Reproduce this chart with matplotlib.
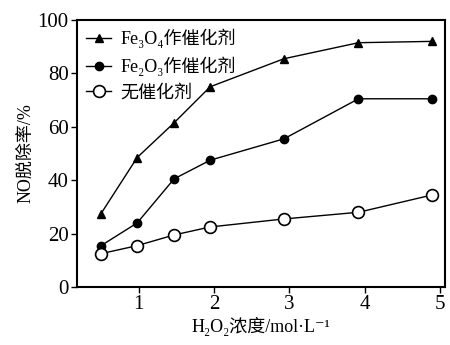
import matplotlib.pyplot as plt

plt.rcParams['font.family'] = ['Liberation Serif', 'Noto Sans CJK SC', 'DejaVu Sans']

# H2O2 concentration (mol/L)
conc = [0.5, 0.98, 1.47, 1.95, 2.93, 3.92, 4.9]
# NO removal rate (%)
fe3o4 = [27.5, 48.5, 61.5, 75, 85.5, 91.5, 92]
fe2o3 = [15.5, 24, 40.5, 47.5, 55.5, 70.5, 70.5]
none = [12.5, 15.5, 19.5, 22.5, 25.5, 28, 34.5]
labels = ['Fe₃O₄作催化剂', 'Fe₂O₃作催化剂', '无催化剂']

fig = plt.figure(figsize=(4.5, 3.45), dpi=100)
ax = fig.add_axes([0.171, 0.168, 0.818, 0.774])

ax.plot(conc, fe3o4, color='black', lw=1, marker='^', ms=6, label=labels[0])
ax.plot(conc, fe2o3, color='black', lw=1, marker='o', ms=6, label=labels[1])
ax.plot(conc, none, color='black', lw=1, marker='o', ms=8.5,
        markerfacecolor='white', markeredgewidth=1.2, label=labels[2])

ax.set_xlim(0.18, 5.07)
ax.set_ylim(0, 100)
ax.set_xticks([1, 2, 3, 4, 5])
ax.set_yticks([0, 20, 40, 60, 80, 100])
ax.tick_params(labelsize=15, length=4, width=1, direction='out', pad=2)
for s in ax.spines.values():
    s.set_linewidth(1.5)

ax.set_xlabel('H₂O₂浓度/mol·L⁻¹', fontsize=13, labelpad=2)
ax.set_ylabel('NO脱除率/%', fontsize=13, labelpad=2)

ax.legend(loc='upper left', frameon=False, fontsize=13, handlelength=1.4,
          handletextpad=0.5, labelspacing=0.45, borderaxespad=0.1)

fig.savefig('out.png', dpi=100)
